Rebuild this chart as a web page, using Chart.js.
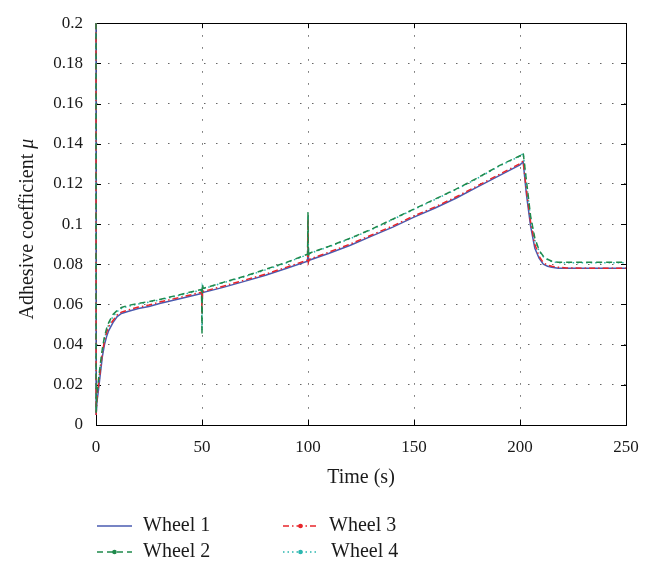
<!DOCTYPE html>
<html>
<head>
<meta charset="utf-8">
<script src="https://cdn.jsdelivr.net/npm/chart.js"></script>
<style>
  html, body { margin: 0; padding: 0; background: #fff; }
  #wrap { width: 658px; height: 564px; }
</style>
</head>
<body>
<div id="wrap"><canvas id="adhesion-chart" width="658" height="564"></canvas></div>
<script>
const times = [0, 0.05, 0.5, 1, 2, 3, 4, 5, 6, 8,
  10, 12, 15, 20, 25, 30, 40, 49.8, 50, 50.2,
  50.6, 60, 70, 80, 90, 99.8, 100, 100.2, 100.6, 110,
  120, 130, 140, 150, 160, 170, 180, 190, 200, 201.5,
  203, 205, 207, 209, 211, 213, 215, 218, 222, 230,
  240, 250];

const wheel1 = [0.2, 0.005, 0.012, 0.016, 0.025, 0.034, 0.040, 0.044, 0.047, 0.051,
  0.054, 0.0555, 0.0565, 0.058, 0.059, 0.0605, 0.063, 0.0655, 0.063, 0.067,
  0.066, 0.0685, 0.0715, 0.0745, 0.078, 0.0815, 0.088, 0.0815, 0.082, 0.0855,
  0.0895, 0.094, 0.0985, 0.1035, 0.108, 0.113, 0.1185, 0.124, 0.1295, 0.131,
  0.115, 0.099, 0.088, 0.083, 0.080, 0.079, 0.0785, 0.078, 0.078, 0.078,
  0.078, 0.078];

const wheel2 = [0.2, 0.006, 0.016, 0.021, 0.030, 0.038, 0.044, 0.048, 0.051, 0.055,
  0.057, 0.0585, 0.0595, 0.0605, 0.0615, 0.0625, 0.065, 0.0675, 0.045, 0.070,
  0.068, 0.071, 0.074, 0.0775, 0.081, 0.085, 0.106, 0.084, 0.0855, 0.089,
  0.093, 0.0975, 0.1025, 0.1075, 0.1125, 0.1175, 0.123, 0.129, 0.134, 0.1355,
  0.122, 0.104, 0.093, 0.087, 0.084, 0.0825, 0.0815, 0.081, 0.081, 0.081,
  0.081, 0.081];

const wheel3 = [0.2, 0.005, 0.013, 0.018, 0.027, 0.036, 0.042, 0.046, 0.049, 0.052,
  0.0548, 0.0562, 0.0572, 0.0587, 0.0597, 0.0612, 0.0636, 0.0661, 0.055, 0.0668,
  0.0665, 0.0691, 0.0721, 0.0751, 0.0786, 0.0821, 0.103, 0.0812, 0.0825, 0.0861,
  0.0901, 0.0946, 0.0991, 0.1041, 0.1086, 0.1136, 0.1191, 0.1246, 0.1301, 0.1314,
  0.117, 0.101, 0.090, 0.084, 0.0808, 0.0795, 0.079, 0.0785, 0.0782, 0.078,
  0.078, 0.078];

const wheel4 = [0.2, 0.006, 0.015, 0.020, 0.029, 0.037, 0.043, 0.047, 0.050, 0.054,
  0.0565, 0.058, 0.059, 0.0602, 0.0612, 0.0622, 0.0647, 0.0672, 0.047, 0.069,
  0.0678, 0.0708, 0.0738, 0.0772, 0.0808, 0.0848, 0.104, 0.0845, 0.0853, 0.0888,
  0.0928, 0.0973, 0.1023, 0.1073, 0.1123, 0.1173, 0.1228, 0.1288, 0.1338, 0.1352,
  0.121, 0.103, 0.092, 0.0865, 0.0838, 0.0823, 0.0813, 0.0808, 0.0808, 0.0808,
  0.0808, 0.0808];

const seriesNames = ['Wheel 1', 'Wheel 2', 'Wheel 3', 'Wheel 4'];
const xTicks = [0, 50, 100, 150, 200, 250];
const yTicks = [0, 0.02, 0.04, 0.06, 0.08, 0.1, 0.12, 0.14, 0.16, 0.18, 0.2];

const FONT = '"Liberation Serif", "DejaVu Serif", serif';
const TEXT = '#1a1a1a';

function toPoints(values) {
  return times.map((t, i) => ({ x: t, y: values[i] }));
}

// order: higher is drawn first (underneath)
const styles = [
  { color: '#4a5bb0', dash: [], marker: false, order: 4 },
  { color: '#1f8a4c', dash: [6, 4], marker: true, order: 1 },
  { color: '#e8262b', dash: [6, 3, 1.5, 3], marker: true, order: 2 },
  { color: '#2bb7b0', dash: [1.5, 3], marker: true, order: 3 }
];

const allValues = [wheel1, wheel2, wheel3, wheel4];

const datasets = allValues.map((vals, i) => ({
  label: seriesNames[i],
  data: toPoints(vals),
  borderColor: styles[i].color,
  backgroundColor: styles[i].color,
  borderDash: styles[i].dash,
  borderWidth: 1.5,
  pointRadius: 0,
  tension: 0,
  fill: false,
  clip: 3,
  order: styles[i].order
}));

// box, inward tick marks, y title with italic mu and the 2x2 legend
const framePlugin = {
  id: 'frame',
  beforeDatasetsDraw(chart) {
    const { ctx, chartArea: a, scales } = chart;
    ctx.save();
    ctx.strokeStyle = '#000';
    ctx.lineWidth = 1;
    ctx.setLineDash([]);
    ctx.strokeRect(Math.round(a.left) + 0.5, Math.round(a.top) + 0.5,
      Math.round(a.right - a.left), Math.round(a.bottom - a.top));
    ctx.beginPath();
    xTicks.forEach(v => {
      const px = Math.round(scales.x.getPixelForValue(v)) + 0.5;
      ctx.moveTo(px, a.bottom); ctx.lineTo(px, a.bottom - 5);
      ctx.moveTo(px, a.top); ctx.lineTo(px, a.top + 5);
    });
    yTicks.forEach(v => {
      const py = Math.round(scales.y.getPixelForValue(v)) + 0.5;
      ctx.moveTo(a.left, py); ctx.lineTo(a.left + 5, py);
      ctx.moveTo(a.right, py); ctx.lineTo(a.right - 5, py);
    });
    ctx.stroke();
    ctx.restore();
  },
  afterDraw(chart) {
    const { ctx, chartArea: a } = chart;
    ctx.save();

    // y axis title
    const regular = '20px ' + FONT;
    const italic = 'italic 20px ' + FONT;
    const part1 = 'Adhesive coefficient ';
    const part2 = 'μ';
    ctx.font = regular;
    const w1 = ctx.measureText(part1).width;
    ctx.font = italic;
    const w2 = ctx.measureText(part2).width;
    ctx.translate(28, (a.top + a.bottom) / 2 + 5);
    ctx.rotate(-Math.PI / 2);
    ctx.fillStyle = TEXT;
    ctx.textBaseline = 'middle';
    ctx.textAlign = 'left';
    ctx.font = regular;
    ctx.fillText(part1, -(w1 + w2) / 2, 0);
    ctx.font = italic;
    ctx.fillText(part2, -(w1 + w2) / 2 + w1, 0);
    ctx.setTransform(1, 0, 0, 1, 0, 0);

    // legend: Wheel 1/2 left, Wheel 3/4 right
    const slots = [
      { x: 97, y: 526, tx: 143 }, { x: 97, y: 552, tx: 143 },
      { x: 283, y: 526, tx: 329 }, { x: 283, y: 552, tx: 331 }
    ];
    chart.data.datasets.forEach((ds, i) => {
      const s = slots[i];
      ctx.strokeStyle = ds.borderColor;
      ctx.lineWidth = 1.5;
      ctx.setLineDash(ds.borderDash);
      ctx.beginPath();
      ctx.moveTo(s.x, s.y);
      ctx.lineTo(s.x + 35, s.y);
      ctx.stroke();
      ctx.setLineDash([]);
      if (styles[i].marker) {
        ctx.fillStyle = ds.borderColor;
        ctx.beginPath();
        ctx.arc(s.x + 17.5, s.y, 2.3, 0, Math.PI * 2);
        ctx.fill();
      }
      ctx.fillStyle = TEXT;
      ctx.font = regular;
      ctx.textBaseline = 'middle';
      ctx.textAlign = 'left';
      ctx.fillText(ds.label, s.tx, s.y);
    });
    ctx.restore();
  }
};

const gridStyle = {
  color: '#666',
  lineWidth: 1,
  drawTicks: false
};
const borderStyle = { display: false, dash: [1.5, 10.5] };

new Chart(document.getElementById('adhesion-chart'), {
  type: 'line',
  data: { datasets: datasets },
  plugins: [framePlugin],
  options: {
    responsive: false,
    animation: false,
    devicePixelRatio: 1,
    layout: { padding: { left: 0, right: 32, top: 17, bottom: 74 } },
    plugins: {
      legend: { display: false },
      tooltip: { enabled: false }
    },
    scales: {
      x: {
        type: 'linear',
        min: 0,
        max: 250,
        afterFit(scale) { scale.height = 65; },
        afterBuildTicks(scale) { scale.ticks = xTicks.map(v => ({ value: v })); },
        grid: gridStyle,
        border: borderStyle,
        ticks: {
          padding: 12,
          color: TEXT,
          font: { family: FONT, size: 17 },
          maxRotation: 0
        },
        title: {
          display: true,
          text: 'Time (s)',
          color: TEXT,
          font: { family: FONT, size: 20 },
          padding: { top: 0, bottom: 0 }
        }
      },
      y: {
        min: 0,
        max: 0.2,
        afterFit(scale) { scale.width = 96; },
        afterBuildTicks(scale) { scale.ticks = yTicks.map(v => ({ value: v })); },
        grid: gridStyle,
        border: borderStyle,
        ticks: {
          padding: 13,
          color: TEXT,
          font: { family: FONT, size: 17 },
          callback: v => String(+v.toFixed(2))
        },
        title: { display: false }
      }
    }
  }
});
</script>
</body>
</html>
